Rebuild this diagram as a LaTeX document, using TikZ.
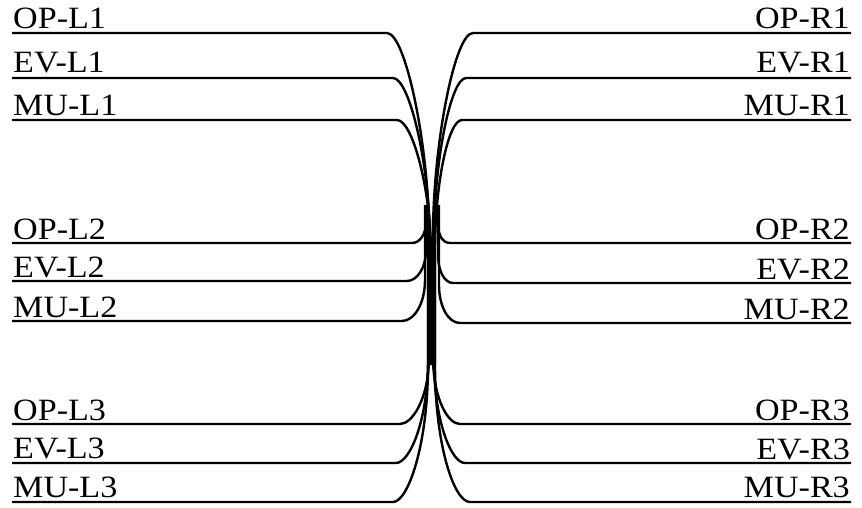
\documentclass[tikz,border=0pt]{standalone}
\usepackage{fontspec}
\newfontfamily\labfont[FakeStretch=1.1]{Liberation Serif}
\begin{document}
\begin{tikzpicture}[x=1pt,y=-1pt,
  wire/.style={line width=2.4pt,line join=round},
  llab/.style={anchor=base west,inner sep=0pt,font=\labfont\fontsize{31}{31}\selectfont},
  rlab/.style={anchor=base east,inner sep=0pt,font=\labfont\fontsize{31}{31}\selectfont}]
\useasboundingbox (0,0) rectangle (862,508);
% labels
\node[llab] (opl1) at (13,29) {OP-L1};
\node[llab] (evl1) at (13,73) {EV-L1};
\node[llab] (mul1) at (13,116) {MU-L1};
\node[llab] (opl2) at (13,239) {OP-L2};
\node[llab] (evl2) at (13,277) {EV-L2};
\node[llab] (mul2) at (13,317) {MU-L2};
\node[llab] (opl3) at (13,420) {OP-L3};
\node[llab] (evl3) at (13,458) {EV-L3};
\node[llab] (mul3) at (13,497) {MU-L3};
\node[rlab] (opr1) at (850,29) {OP-R1};
\node[rlab] (evr1) at (850,73) {EV-R1};
\node[rlab] (mur1) at (850,116) {MU-R1};
\node[rlab] (opr2) at (850,239) {OP-R2};
\node[rlab] (evr2) at (850,279) {EV-R2};
\node[rlab] (mur2) at (850,319) {MU-R2};
\node[rlab] (opr3) at (850,420) {OP-R3};
\node[rlab] (evr3) at (850,459) {EV-R3};
\node[rlab] (mur3) at (850,497) {MU-R3};
% left group 1
\draw[wire] (12,33) -- (387,33) .. controls (405,33) and (428,140) .. (429,230) -- (429,365);
\draw[wire] (12,78) -- (393,78) .. controls (409,78) and (429,160) .. (430,240) -- (430,365);
\draw[wire] (12,120) -- (397,120) .. controls (412,120) and (430,185) .. (431,250) -- (431,365);
% left group 2
\draw[wire] (12,243) -- (412,243) .. controls (420,243) and (426,234) .. (426,222) -- (426,205);
\draw[wire] (12,281) -- (407,281) .. controls (417,281) and (426,268) .. (426,250) -- (426,205);
\draw[wire] (12,321) -- (402,321) .. controls (414,321) and (425,304) .. (425,280) -- (425,205);
% left group 3
\draw[wire] (12,424) -- (400,424) .. controls (412,424) and (428,400) .. (429,360) -- (429,215);
\draw[wire] (12,463) -- (396,463) .. controls (410,463) and (428,420) .. (428,360) -- (428,215);
\draw[wire] (12,502) -- (393,502) .. controls (408,502) and (428,445) .. (428,365) -- (428,215);
% right group 1
\draw[wire] (851,33) -- (473,33) .. controls (455,33) and (434,140) .. (433,230) -- (433,365);
\draw[wire] (851,78) -- (466,78) .. controls (451,78) and (434,160) .. (434,240) -- (434,365);
\draw[wire] (851,120) -- (462,120) .. controls (448,120) and (435,185) .. (435,250) -- (435,365);
% right group 2
\draw[wire] (851,243) -- (450,243) .. controls (442,243) and (438,234) .. (438,224) -- (438,205);
\draw[wire] (851,283) -- (453,283) .. controls (444,283) and (438,270) .. (438,255) -- (438,205);
\draw[wire] (851,323) -- (460,323) .. controls (448,323) and (439,306) .. (439,285) -- (439,205);
% right group 3
\draw[wire] (851,424) -- (460,424) .. controls (448,424) and (434,400) .. (433,360) -- (433,215);
\draw[wire] (851,463) -- (465,463) .. controls (451,463) and (434,420) .. (434,360) -- (434,215);
\draw[wire] (851,502) -- (470,502) .. controls (454,502) and (435,445) .. (435,365) -- (435,215);
\end{tikzpicture}
\end{document}
